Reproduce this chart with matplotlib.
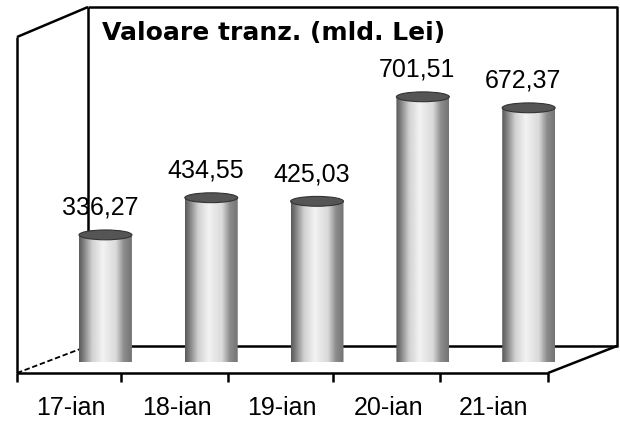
import numpy as np
import matplotlib
matplotlib.use('Agg')
import matplotlib.pyplot as plt
from matplotlib.patches import Ellipse, PathPatch
from matplotlib.path import Path

# date si valori (mld. Lei)
dates = ['17-ian', '18-ian', '19-ian', '20-ian', '21-ian']
values = [336.27, 434.55, 425.03, 701.51, 672.37]
value_labels = ['336,27', '434,55', '425,03', '701,51', '672,37']
title = 'Valoare tranz. (mld. Lei)'

plt.rcParams['font.family'] = ['Liberation Sans', 'DejaVu Sans']

fig = plt.figure(figsize=(6.2, 4.25), dpi=100)
fig.patch.set_facecolor('white')

# cutia 3D (decor), in pixeli
frame = fig.add_axes([0, 0, 1, 1])
frame.set_xlim(0, 620)
frame.set_ylim(425, 0)
frame.axis('off')
lw = 1.8
k = dict(color='black', lw=lw, solid_capstyle='butt')
frame.plot([88, 617, 617], [7, 7, 347], **k)          # perete spate
frame.plot([88, 88], [7, 346], **k)
frame.plot([17, 88], [37, 7], **k)                     # perete stanga
frame.plot([17, 17], [37, 373], **k)
frame.plot([88, 617], [346, 346], **k)                 # podea
frame.plot([17, 548], [373, 373], **k)
frame.plot([17, 88], [373, 346], color='black', lw=1.3, ls=(0, (3, 1.5)))
frame.plot([548, 617], [373, 346], **k)
for tx in [17, 121, 228, 333, 440, 548]:
    frame.plot([tx, tx], [373, 382], **k)

# axa de date
ax = fig.add_axes([0.0848, 0.1482, 0.8532, 0.8353])
ax.set_xlim(-0.5, 4.5)
ax.set_ylim(0, 939)
ax.axis('off')
ax.patch.set_alpha(0)

w = 0.5
eh = 26.0  # inaltimea elipsei in unitati de date
t = np.linspace(0, 1, 200)
shade = np.interp(t, [0, 0.06, 0.25, 0.45, 0.7, 0.85, 1],
                  [0.35, 0.45, 0.82, 0.95, 0.85, 0.55, 0.45])
grad = np.tile(shade, (2, 1))

for i, v in enumerate(values):
    x0, x1 = i - w / 2, i + w / 2
    ang = np.linspace(np.pi, 2 * np.pi, 40)
    arc = np.column_stack([i + (w / 2) * np.cos(ang), (eh / 2) * np.sin(ang)])
    verts = np.vstack([[x0, v], arc, [x1, v], [x0, v]])
    codes = [Path.MOVETO] + [Path.LINETO] * (len(verts) - 2) + [Path.CLOSEPOLY]
    body = PathPatch(Path(verts, codes), facecolor='none', edgecolor='none')
    ax.add_patch(body)
    im = ax.imshow(grad, cmap='gray', vmin=0, vmax=1, aspect='auto',
                   extent=(x0, x1, -eh / 2, v), zorder=2, interpolation='bilinear')
    im.set_clip_path(body)
    top = Ellipse((i, v), w, eh, facecolor='#555555', edgecolor='#333333',
                  lw=0.8, zorder=3)
    ax.add_patch(top)
    ax.annotate(value_labels[i], xy=(i, v), xytext=(-4, 11),
                textcoords='offset points', ha='center', va='bottom',
                fontsize=18, color='black')
    ax.annotate(dates[i], xy=(i, 0), xycoords=('data', 'axes fraction'),
                xytext=(-25, -33), textcoords='offset points',
                ha='center', va='center', fontsize=18, color='black',
                annotation_clip=False)

ax.text(0.093, 0.96, title, transform=ax.transAxes, ha='left', va='top',
        fontsize=18, fontweight='bold', color='black', family='DejaVu Sans')
ax.set_xlim(-0.5, 4.5)
ax.set_ylim(0, 939)

fig.savefig('out.png', dpi=100, facecolor='white')
